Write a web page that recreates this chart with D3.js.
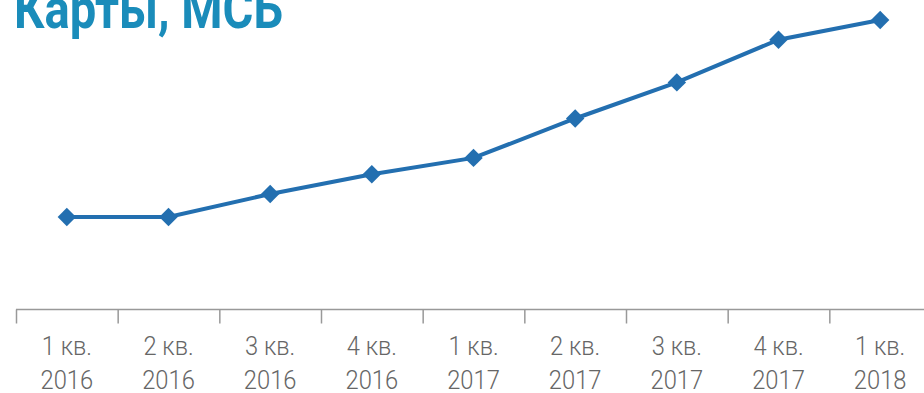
<!DOCTYPE html>
<html>
<head>
<meta charset="utf-8">
<script src="https://cdn.jsdelivr.net/npm/d3@7"></script>
<style>
  body { margin: 0; background: #fff; }
  svg { display: block; }
</style>
</head>
<body>
<script>
"use strict"

var quarters = ["1 кв.", "2 кв.", "3 кв.", "4 кв.", "1 кв.", "2 кв.", "3 кв.", "4 кв.", "1 кв."];
var years = ["2016", "2016", "2016", "2016", "2017", "2017", "2017", "2017", "2018"];
var values = [30, 30, 37, 43, 48, 60, 71, 84, 90];
var title = "Карты, МСБ";

var width = 924, height = 393;

var svg = d3.select("body").append("svg")
    .attr("width", width)
    .attr("height", height);

var cats = quarters.map(function (q, i) { return i; });

var x = d3.scaleBand().domain(cats).range([16, 931]);
var y = d3.scaleLinear().domain([0, 90]).range([315.5, 20]);

// title, cut at the top like the source
svg.append("text")
    .attr("x", 14)
    .attr("y", 28)
    .attr("font-family", "Roboto, Liberation Sans, sans-serif")
    .attr("font-weight", "bold")
    .attr("font-size", 56)
    .attr("fill", "#1a8cba")
    .attr("textLength", 269)
    .attr("lengthAdjust", "spacingAndGlyphs")
    .text(title);

// axis
var axisY = 309.5;
svg.append("line")
    .attr("x1", 16).attr("x2", width)
    .attr("y1", axisY).attr("y2", axisY)
    .attr("stroke", "#999").attr("stroke-width", 1.5);

svg.selectAll(".tick").data(cats).enter().append("line")
    .attr("x1", function (d) { return x(d) + 0.5; })
    .attr("x2", function (d) { return x(d) + 0.5; })
    .attr("y1", axisY).attr("y2", axisY + 14)
    .attr("stroke", "#999").attr("stroke-width", 1.5);

// condensed labels: squeeze horizontally around each band centre
var labels = svg.selectAll(".lbl").data(cats).enter().append("g")
    .attr("transform", function (d) {
        return "translate(" + (x(d) + x.bandwidth() / 2) + ",0) scale(0.95,1)";
    })
    .append("text")
    .attr("text-anchor", "middle")
    .attr("font-family", "Roboto, sans-serif")
    .attr("font-weight", 300)
    .attr("font-size", 25)
    .attr("fill", "#666");

labels.append("tspan")
    .attr("x", 0)
    .attr("y", 355)
    .text(function (d) { return quarters[d]; });
labels.append("tspan")
    .attr("x", 0)
    .attr("y", 389)
    .text(function (d) { return years[d]; });

// line
var line = d3.line()
    .x(function (d) { return x(d) + x.bandwidth() / 2; })
    .y(function (d) { return y(values[d]); });

svg.append("path")
    .datum(cats)
    .attr("d", line)
    .attr("fill", "none")
    .attr("stroke", "#236fb0")
    .attr("stroke-width", 4);

var diamond = d3.symbol().type(d3.symbolSquare).size(170);
svg.selectAll(".pt").data(cats).enter().append("path")
    .attr("d", diamond)
    .attr("transform", function (d) {
        return "translate(" + (x(d) + x.bandwidth() / 2) + "," + y(values[d]) + ") rotate(45)";
    })
    .attr("fill", "#236fb0");
</script>
</body>
</html>
